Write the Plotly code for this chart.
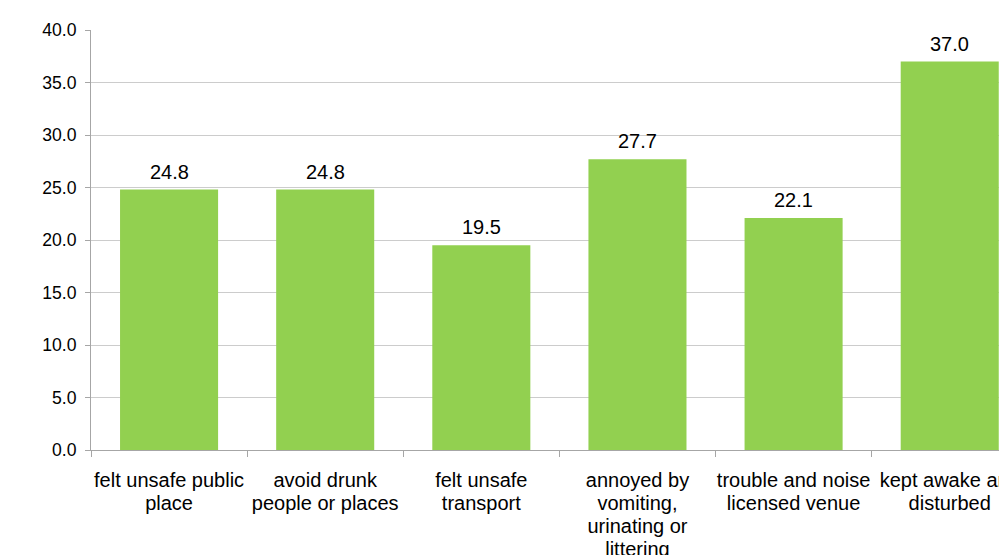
import plotly.graph_objects as go

categories = [
    "felt unsafe public<br>place",
    "avoid drunk<br>people or places",
    "felt unsafe<br>transport",
    "annoyed by<br>vomiting,<br>urinating or<br>littering",
    "trouble and noise<br>licensed venue",
    "kept awake and<br>disturbed",
]
values = [24.8, 24.8, 19.5, 27.7, 22.1, 37.0]
value_labels = ["24.8", "24.8", "19.5", "27.7", "22.1", "37.0"]
y_tickvals = [0, 5, 10, 15, 20, 25, 30, 35, 40]
y_ticktext = ["0.0", "5.0", "10.0", "15.0", "20.0", "25.0", "30.0", "35.0", "40.0"]

FONT = "Liberation Sans, Arial, sans-serif"


def big(label):
    return "<br>".join(
        f"<span style='font-size:20px'>{part}</span>" for part in label.split("<br>")
    )


positions = list(range(len(categories)))

fig = go.Figure(
    go.Bar(
        x=positions,
        y=values,
        marker=dict(color="#92D050", line=dict(width=0)),
        hoverinfo="skip",
    )
)

for xi, yi, lab in zip(positions, values, value_labels):
    fig.add_annotation(
        x=xi,
        y=yi,
        text=lab,
        showarrow=False,
        yanchor="bottom",
        yshift=5,
        font=dict(family=FONT, size=20, color="#000000"),
    )

fig.update_layout(
    width=999,
    height=555,
    margin=dict(l=91, r=0, t=30, b=105, pad=0, autoexpand=False),
    paper_bgcolor="white",
    plot_bgcolor="white",
    bargap=0.372,
    showlegend=False,
    font=dict(family=FONT, color="#000000"),
)

fig.update_xaxes(
    type="linear",
    automargin=False,
    tickmode="array",
    tickvals=positions,
    ticktext=[big(c) for c in categories],
    tickfont=dict(family=FONT, size=17.7, color="#000000"),
    ticklabeloverflow="allow",
    ticklabelstandoff=15,
    range=[-0.5, 5.3156],
    showline=True,
    linecolor="#a6a6a6",
    linewidth=1,
    ticks="",
    showgrid=False,
    zeroline=False,
    minor=dict(
        tickmode="array",
        tickvals=[-0.5, 0.5, 1.5, 2.5, 3.5, 4.5],
        ticks="outside",
        ticklen=6,
        tickcolor="#a6a6a6",
        showgrid=False,
    ),
)

fig.update_yaxes(
    automargin=False,
    range=[0, 40],
    tickmode="array",
    tickvals=y_tickvals,
    ticktext=y_ticktext,
    tickfont=dict(family=FONT, size=17.6, color="#000000"),
    ticklabelstandoff=5,
    showline=True,
    linecolor="#a6a6a6",
    linewidth=1,
    ticks="outside",
    ticklen=5,
    tickcolor="#a6a6a6",
    showgrid=True,
    gridcolor="#cccccc",
    gridwidth=1,
    zeroline=False,
)

fig.write_html("out.html")
